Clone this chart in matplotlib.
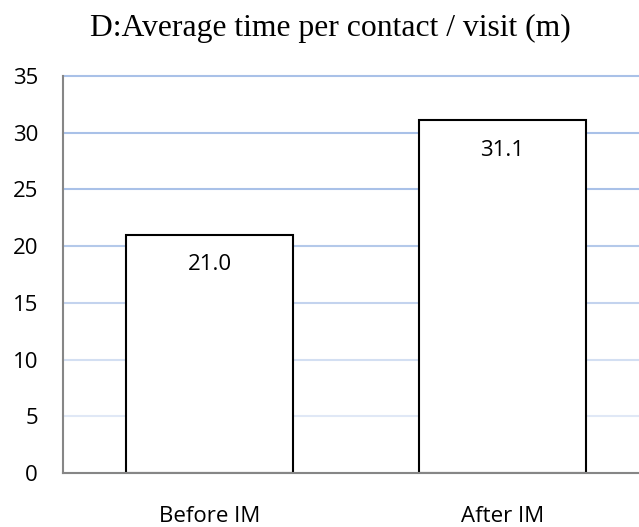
import matplotlib
matplotlib.use('Agg')
import matplotlib.pyplot as plt

categories = ['Before IM', 'After IM']
avg_minutes = [21.0, 31.1]
y_ticks = [0, 5, 10, 15, 20, 25, 30, 35]

# gridlines fade out towards the bottom in the original
grid_colors = ['#e6ecf7', '#e0e8f6', '#d3dff2', '#c3d3ee',
               '#b4c9ea', '#a9c1e8', '#a9c1e8', '#a9c1e8']

fig = plt.figure(figsize=(6.39, 5.27), dpi=100)
ax = fig.add_axes([63 / 639, 1 - 473 / 527, 586 / 639, 397 / 527])

xpos = list(range(len(categories)))
bars = ax.bar(xpos, avg_minutes, width=0.573, color='white',
              edgecolor='black', linewidth=1.5, zorder=3)

ax.set_xlim(-0.5, 1.5)
ax.set_ylim(0, 35)
ax.set_yticks(y_ticks)
ax.set_xticks(xpos)
ax.set_xticklabels(categories)

for lab in ax.get_yticklabels() + ax.get_xticklabels():
    lab.set_fontfamily('Open Sans')
    lab.set_fontsize(16)

ax.tick_params(axis='y', length=0, pad=18)
ax.tick_params(axis='x', length=0, pad=24)

ax.grid(axis='y', linewidth=1.5, zorder=0)
for gl, c in zip(ax.yaxis.get_gridlines(), grid_colors):
    gl.set_color(c)
    gl.set_clip_on(False)
ax.set_axisbelow(True)

for side in ['top', 'right']:
    ax.spines[side].set_visible(False)
for side in ['left', 'bottom']:
    ax.spines[side].set_color('#868686')
    ax.spines[side].set_linewidth(1.5)
    ax.spines[side].set_zorder(4)

for b, v in zip(bars, avg_minutes):
    ax.annotate('%.1f' % v, (b.get_x() + b.get_width() / 2, v),
                xytext=(0, -21.5), textcoords='offset points',
                ha='center', va='center', family='Open Sans', fontsize=16,
                zorder=5)

fig.text(330.5 / 639, 1 - 36 / 527, 'D:Average time per contact / visit (m)',
         ha='center', va='baseline', family='Liberation Serif', fontsize=22.8)

fig.savefig('out.png', dpi=100)
